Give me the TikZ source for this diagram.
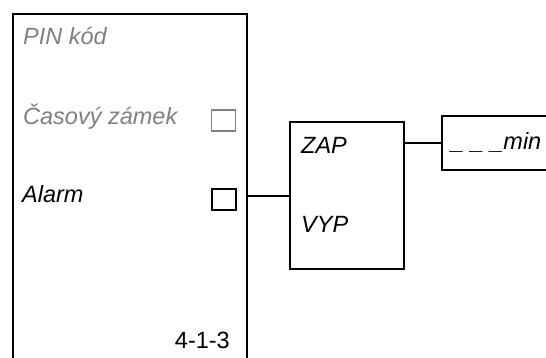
\documentclass[tikz,border=0pt]{standalone}
\usepackage{fontspec}
\setmainfont{Liberation Sans}
\usetikzlibrary{positioning}
\definecolor{menuGrey}{RGB}{128,128,128}
\newcommand{\menufont}{\fontsize{23.5}{28}\selectfont}
\tikzset{
  frame/.style={draw=black, line width=1.8pt, inner sep=0pt},
  tick/.style={frame, minimum width=24pt, minimum height=21pt},
  item/.style={anchor=base west, inner sep=0pt, font=\menufont\itshape},
  wire/.style={line width=1.8pt}
}

\begin{document}
\begin{tikzpicture}[x=1pt, y=-1pt, font=\menufont]
\useasboundingbox (0,0) rectangle (546,358);
\clip (0,0) rectangle (546,358);

% Menu panel (open at the bottom)
\node[frame, minimum width=234pt, minimum height=400pt, anchor=north west] (menu) at (12,13) {};
\node[item, menuGrey] (pin) at (23,45) {PIN kód};
\node[item, menuGrey] (lock) at (23,125) {Časový zámek};
\node[item] (alarm) at (22,203) {Alarm};
\node[anchor=base east, inner sep=0pt] (code) at (230,348) {4-1-3};

% Check boxes
\node[tick, draw=menuGrey] (lockbox) at (223.5,120.5) {};
\node[tick] (alarmbox) at (224,199.5) {};

% On/off box
\node[frame, minimum width=114pt, minimum height=147pt] (onoff) at (347,195.5) {};
\node[item] (on) at (301,154) {ZAP};
\node[item] (off) at (301,233) {VYP};

% Delay box (open at the right)
\node[frame, minimum width=130pt, minimum height=54pt, anchor=west] (delay) at (441,143) {};
\node[item] (mins) at (451,150) {\_ \_ \_min};

% Links
\coordinate (link) at (0,196);
\draw[wire] (menu.east |- link) -- (onoff.west |- link);
\draw[wire] (onoff.east |- delay) -- (delay.west);
\end{tikzpicture}
\end{document}
